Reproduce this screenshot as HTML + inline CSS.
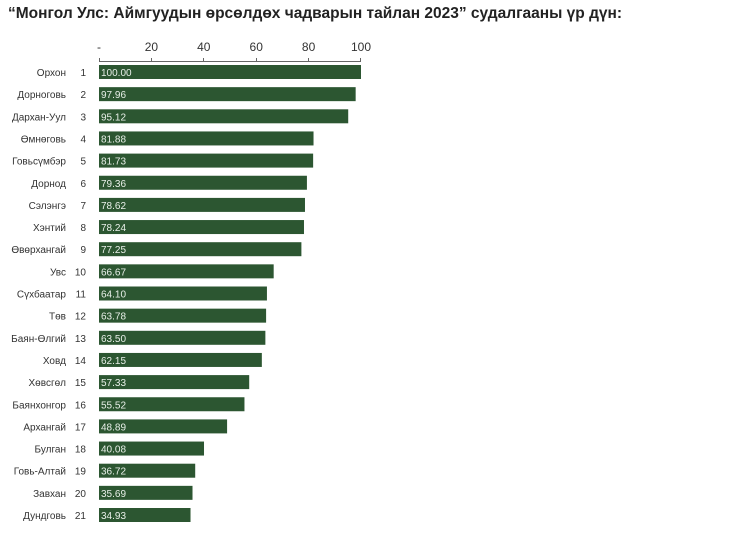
<!DOCTYPE html>
<html><head><meta charset="utf-8"><style>
body{margin:0;background:#fff;width:744px;height:537px;overflow:hidden;font-family:"Liberation Sans",sans-serif}
</style></head><body>
<svg width="744" height="537" xmlns="http://www.w3.org/2000/svg">
<text x="8" y="18" font-family="Liberation Sans, sans-serif" font-weight="bold" font-size="15.5" fill="#222">“Монгол Улс: Аймгуудын өрсөлдөх чадварын тайлан 2023” судалгааны үр дүн:</text>
<g font-family="Liberation Sans, sans-serif" font-size="12" fill="#333" text-anchor="middle">
<text x="99" y="51">-</text><text x="151.4" y="51">20</text><text x="203.8" y="51">40</text><text x="256.2" y="51">60</text><text x="308.6" y="51">80</text><text x="361" y="51">100</text>
</g>
<g stroke="#666" stroke-width="1">
<line x1="99" y1="61.5" x2="361" y2="61.5"/>
<line x1="99.5" y1="58" x2="99.5" y2="62"/><line x1="151.5" y1="58" x2="151.5" y2="62"/><line x1="203.5" y1="58" x2="203.5" y2="62"/><line x1="256.5" y1="58" x2="256.5" y2="62"/><line x1="308.5" y1="58" x2="308.5" y2="62"/><line x1="360.5" y1="58" x2="360.5" y2="62"/>
</g>
<g id="rows" font-family="Liberation Sans, sans-serif" font-size="10"></g>
</svg>
<script>
var d=[["Орхон",100],["Дорноговь",97.96],["Дархан-Уул",95.12],["Өмнөговь",81.88],["Говьсүмбэр",81.73],["Дорнод",79.36],["Сэлэнгэ",78.62],["Хэнтий",78.24],["Өвөрхангай",77.25],["Увс",66.67],["Сүхбаатар",64.10],["Төв",63.78],["Баян-Өлгий",63.50],["Ховд",62.15],["Хөвсгөл",57.33],["Баянхонгор",55.52],["Архангай",48.89],["Булган",40.08],["Говь-Алтай",36.72],["Завхан",35.69],["Дундговь",34.93]];
var g=document.getElementById('rows'),h='';
d.forEach(function(r,i){var cy=72+i*22.15,w=r[1]*2.62;
h+='<rect x="99" y="'+(cy-7)+'" width="'+w+'" height="14" fill="#2c5631"/>';
h+='<text x="66" y="'+(cy+4)+'" text-anchor="end" fill="#333">'+r[0]+'</text>';
h+='<text x="86" y="'+(cy+4)+'" text-anchor="end" fill="#333">'+(i+1)+'</text>';
h+='<text x="101" y="'+(cy+4)+'" fill="#e8efe8">'+r[1].toFixed(2)+'</text>';});
g.innerHTML=h;
</script>
</body></html>
